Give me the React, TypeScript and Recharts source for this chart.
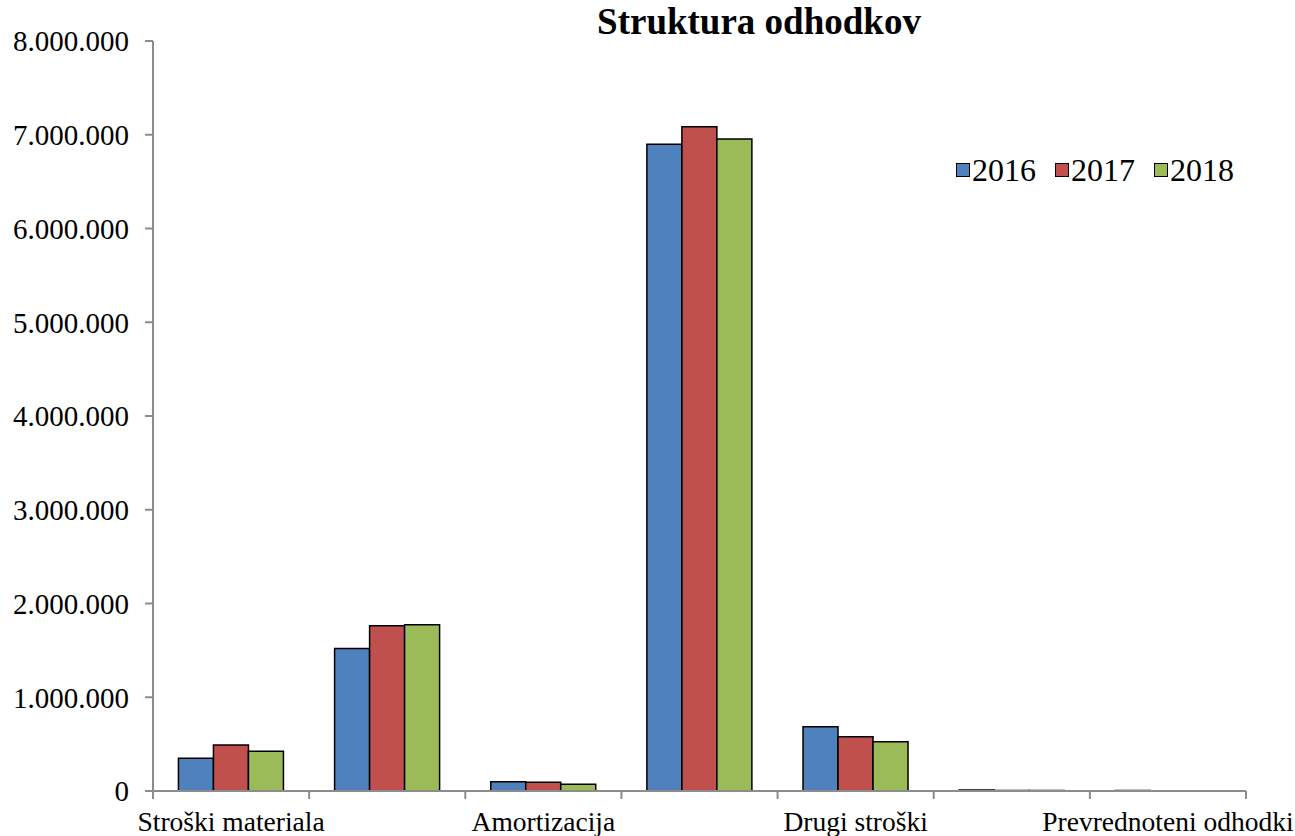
import React from "react";
import { BarChart, Bar, XAxis, YAxis } from "recharts";

const categories = [
  "Stroški materiala",
  "Stroški storitev",
  "Amortizacija",
  "Stroški dela",
  "Drugi stroški",
  "Finančni odhodki",
  "Prevrednoteni odhodki",
];
const years = ["2016", "2017", "2018"];
const values2016 = [350000, 1520000, 100000, 6900000, 685000, 10000, 6000];
const values2017 = [490000, 1763000, 93000, 7085000, 580000, 6000, 0];
const values2018 = [425000, 1773000, 71000, 6955000, 525000, 6000, 0];
const yTicks = [0, 1000000, 2000000, 3000000, 4000000, 5000000, 6000000, 7000000, 8000000];

const W = 1295;
const H = 836;
const MARGIN = { top: 41, right: 49, left: 0, bottom: 0 };
const Y_AXIS_W = 153;
const X_AXIS_H = 45;
const BAND = (W - MARGIN.left - MARGIN.right - Y_AXIS_W) / categories.length;

const FONT = '"Liberation Serif", "Times New Roman", serif';
const AXIS_GRAY = "#8c8c8c";
const seriesColors = ["#4F81BD", "#C0504D", "#9BBB59"];

const chartData = categories.map((name, i) => ({
  name,
  y2016: values2016[i],
  y2017: values2017[i],
  y2018: values2018[i],
}));

const fmt = (v: number) => v.toString().replace(/\B(?=(\d{3})+(?!\d))/g, ".");

// Excel-style ticks sit between categories; only every other label fits
const CategoryTick = (props: any) => {
  const { x, y, payload, index } = props;
  const left = x - BAND / 2;
  const isLast = index === categories.length - 1;
  return (
    <g>
      <line x1={left} y1={y} x2={left} y2={y + 8} stroke={AXIS_GRAY} strokeWidth={2} />
      {isLast && (
        <line x1={x + BAND / 2} y1={y} x2={x + BAND / 2} y2={y + 8} stroke={AXIS_GRAY} strokeWidth={2} />
      )}
      {index % 2 === 0 && (
        <text x={x} y={y + 40} textAnchor="middle" fontFamily={FONT} fontSize={27.5} fill="#000">
          {payload.value}
        </text>
      )}
    </g>
  );
};

const ValueTick = (props: any) => {
  const { x, y, payload } = props;
  return (
    <text x={x} y={y} dy="0.355em" textAnchor="end" fontFamily={FONT} fontSize={29} fill="#000">
      {fmt(payload.value)}
    </text>
  );
};

const ChartLegend = () => (
  <div
    style={{
      position: "absolute",
      left: 956,
      top: 151,
      display: "flex",
      alignItems: "center",
      fontFamily: FONT,
      fontSize: 32,
      lineHeight: "38px",
      color: "#000",
    }}
  >
    {years.map((year, i) => (
      <div key={year} style={{ display: "flex", alignItems: "center", marginRight: 19 }}>
        <span
          style={{
            width: 12,
            height: 12,
            background: seriesColors[i],
            border: "1.5px solid #000",
            marginRight: 2,
            display: "inline-block",
          }}
        />
        <span>{year}</span>
      </div>
    ))}
  </div>
);

export default function App() {
  return (
    <div style={{ position: "absolute", left: 0, top: 0, width: W, height: H, background: "#fff" }}>
      <div
        style={{
          position: "absolute",
          left: 0,
          width: 1518,
          top: 2,
          textAlign: "center",
          fontFamily: FONT,
          fontWeight: "bold",
          fontSize: 37,
          lineHeight: "40px",
          color: "#000",
          zIndex: 2,
        }}
      >
        Struktura odhodkov
      </div>
      <BarChart
        width={W}
        height={H}
        data={chartData}
        margin={MARGIN}
        barCategoryGap="16.3%"
        barGap={0}
      >
        <XAxis
          dataKey="name"
          height={X_AXIS_H}
          interval={0}
          tickLine={false}
          tickSize={0}
          tickMargin={0}
          axisLine={{ stroke: AXIS_GRAY, strokeWidth: 2 }}
          tick={<CategoryTick />}
        />
        <YAxis
          width={Y_AXIS_W}
          domain={[0, 8000000]}
          ticks={yTicks}
          interval={0}
          tickSize={8}
          tickMargin={16}
          axisLine={{ stroke: AXIS_GRAY, strokeWidth: 2 }}
          tickLine={{ stroke: AXIS_GRAY, strokeWidth: 2 }}
          tick={<ValueTick />}
        />
        <Bar dataKey="y2016" name="2016" fill={seriesColors[0]} stroke="#000" strokeWidth={1.5} isAnimationActive={false} />
        <Bar dataKey="y2017" name="2017" fill={seriesColors[1]} stroke="#000" strokeWidth={1.5} isAnimationActive={false} />
        <Bar dataKey="y2018" name="2018" fill={seriesColors[2]} stroke="#000" strokeWidth={1.5} isAnimationActive={false} />
      </BarChart>
      <ChartLegend />
    </div>
  );
}
